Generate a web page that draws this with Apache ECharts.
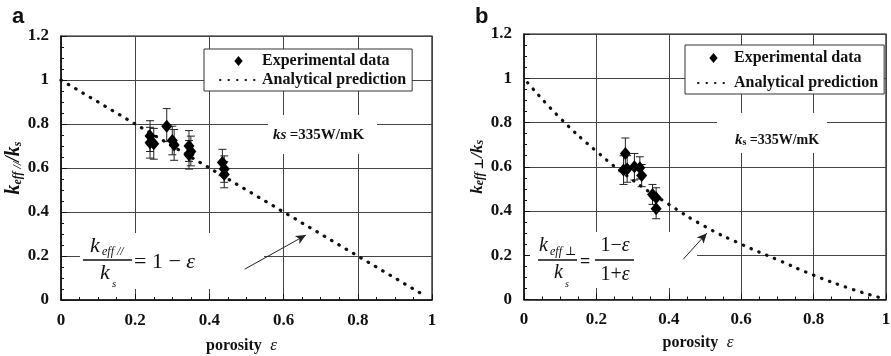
<!DOCTYPE html>
<html>
<head>
<meta charset="utf-8">
<script src="https://cdn.jsdelivr.net/npm/echarts@6/dist/echarts.min.js"></script>
<style>
html,body{margin:0;padding:0;background:#fff;}
#chart{width:891px;height:356px;}
</style>
</head>
<body>
<div id="chart"></div>
<script>
// Panel a: conductivity parallel to the pores (porosity, k_eff/k_s, error-bar low, error-bar high)
const aPorosity = [0.24, 0.24, 0.25, 0.285, 0.30, 0.305, 0.345, 0.35, 0.345, 0.435, 0.44, 0.44];
const aRatio    = [0.745, 0.715, 0.71, 0.79, 0.725, 0.705, 0.70, 0.675, 0.66, 0.625, 0.595, 0.57];
const aLow      = [0.675, 0.645, 0.64, 0.72, 0.66, 0.635, 0.63, 0.61, 0.595, 0.565, 0.535, 0.51];
const aHigh     = [0.815, 0.785, 0.78, 0.87, 0.79, 0.775, 0.77, 0.745, 0.725, 0.685, 0.655, 0.63];
// analytical prediction k_eff/k_s = 1 - eps
const aLineX = [0, 0.2, 0.4, 0.6, 0.8, 0.98];
const aLineY = [1, 0.8, 0.6, 0.4, 0.2, 0.02];
const aArrow = [[0.495, 0.14], [0.66, 0.295]];

// Panel b: conductivity perpendicular to the pores
const bPorosity = [0.28, 0.275, 0.285, 0.305, 0.32, 0.325, 0.355, 0.365, 0.365];
const bRatio    = [0.66, 0.585, 0.59, 0.60, 0.595, 0.56, 0.475, 0.46, 0.41];
const bLow      = [0.59, 0.52, 0.53, 0.54, 0.545, 0.51, 0.43, 0.415, 0.365];
const bHigh     = [0.73, 0.65, 0.65, 0.66, 0.645, 0.61, 0.52, 0.505, 0.455];
// analytical prediction k_eff/k_s = (1 - eps)/(1 + eps)
const bLineX = [0.01, 0.1, 0.2, 0.3, 0.4, 0.5, 0.6, 0.7, 0.8, 0.9, 0.98];
const bLineY = [0.98, 0.82, 0.67, 0.54, 0.43, 0.33, 0.25, 0.18, 0.11, 0.05, 0.01];
const bArrow = [[0.44, 0.182], [0.505, 0.30]];

const SERIF = '"Liberation Serif", "DejaVu Serif", serif';
const INK = '#111';
const DIAMOND = 'path://M5 0L10 6L5 12L0 6Z';

const pairs = (xs, ys) => xs.map((x, i) => [x, ys[i]]);
const bars = (xs, lo, hi) => xs.map((x, i) => [x, lo[i], hi[i]]);

function errorBar(params, api) {
  const x = api.value(0);
  const lo = api.coord([x, api.value(1)]);
  const hi = api.coord([x, api.value(2)]);
  const c = 4;
  const st = { stroke: '#222', lineWidth: 1 };
  return {
    type: 'group',
    children: [
      { type: 'line', shape: { x1: lo[0], y1: lo[1], x2: hi[0], y2: hi[1] }, style: st },
      { type: 'line', shape: { x1: lo[0] - c, y1: lo[1], x2: lo[0] + c, y2: lo[1] }, style: st },
      { type: 'line', shape: { x1: hi[0] - c, y1: hi[1], x2: hi[0] + c, y2: hi[1] }, style: st }
    ]
  };
}

const labelStyle = { fontFamily: SERIF, fontWeight: 'bold', fontSize: 17, color: INK };

function xAxis(gridIndex, padRight, gap) {
  return {
    type: 'value', gridIndex, min: 0, max: 1, interval: 0.2,
    name: '{p|porosity}{e|  ε}', nameLocation: 'middle', nameGap: gap,
    nameTextStyle: {
      padding: [0, padRight, 0, 0],
      rich: {
        p: { fontFamily: SERIF, fontWeight: 'bold', fontSize: 16, color: INK },
        e: { fontFamily: SERIF, fontStyle: 'italic', fontSize: 17, color: INK }
      }
    },
    axisLine: { lineStyle: { color: INK, width: 1.5 } },
    axisTick: { inside: true, length: 6, lineStyle: { color: INK } },
    minorTick: { show: true, splitNumber: 4, length: 3, lineStyle: { color: INK } },
    splitLine: { show: true, lineStyle: { color: '#444', width: 1 } },
    axisLabel: Object.assign({ margin: 12 }, labelStyle)
  };
}

function yAxis(gridIndex, name, gap, kSize, subSize) {
  return {
    type: 'value', gridIndex, min: 0, max: 1.2, interval: 0.2,
    name, nameLocation: 'middle', nameGap: gap, nameRotate: 90,
    nameTextStyle: {
      rich: {
        k: { fontFamily: SERIF, fontStyle: 'italic', fontWeight: 'bold', fontSize: kSize, color: INK },
        s: { fontFamily: SERIF, fontStyle: 'italic', fontWeight: 'bold', fontSize: subSize, color: INK, verticalAlign: 'bottom', lineHeight: 10 }
      }
    },
    axisLine: { lineStyle: { color: INK, width: 1.5 } },
    axisTick: { inside: true, length: 6, lineStyle: { color: INK } },
    minorTick: { show: true, splitNumber: 4, length: 3, lineStyle: { color: INK } },
    splitLine: { show: true, lineStyle: { color: '#444', width: 1 } },
    axisLabel: Object.assign({ margin: 12 }, labelStyle)
  };
}

const dotted = { color: INK, width: 3.2, type: [0.5, 8], cap: 'round' };
const arrowMark = (pts) => ({
  silent: true, symbol: ['none', 'arrow'], symbolSize: [7, 10],
  lineStyle: { color: '#222', width: 1, type: 'solid' },
  label: { show: false },
  data: [[{ coord: pts[0] }, { coord: pts[1] }]]
});

function legend(left, top, iconW, pad, gap) {
  return {
    left, top, orient: 'vertical', selectedMode: false, symbolKeepAspect: true,
    data: [
      { name: 'Experimental data', icon: DIAMOND },
      { name: 'Analytical prediction', itemStyle: { opacity: 0 } }
    ],
    backgroundColor: '#fff', borderColor: '#333', borderWidth: 1,
    padding: pad, itemGap: gap, itemWidth: iconW, itemHeight: 10, itemTextGap: 6,
    textStyle: { fontFamily: SERIF, fontWeight: 'bold', fontSize: 16, color: INK }
  };
}

// plain text helper for the annotations drawn over the plots
const txt = (x, y, text, font, extra) => ({
  type: 'text', x, y, z: 20,
  style: Object.assign({ text, font, fill: INK, align: 'left', verticalAlign: 'middle' }, extra || {})
});
const bar = (x1, x2, y) => ({ type: 'line', z: 20, shape: { x1, y1: y, x2, y2: y }, style: { stroke: INK, lineWidth: 1.3 } });
const blank = (x, y, w, h) => ({ type: 'rect', z: 1, shape: { x, y, width: w, height: h }, style: { fill: '#fff' } });

const diamondStyle = { color: '#000', opacity: 1 };

const option = {
  backgroundColor: '#fff',
  animation: false,
  grid: [
    { left: 61, top: 36, width: 371, height: 264, outerBoundsMode: 'none', show: true,
      borderColor: INK, borderWidth: 1.2, backgroundColor: 'transparent' },
    { left: 524, top: 34, width: 362, height: 265.5, outerBoundsMode: 'none', show: true,
      borderColor: INK, borderWidth: 1.2, backgroundColor: 'transparent' }
  ],
  xAxis: [xAxis(0, 10, 37), xAxis(1, 14, 35)],
  yAxis: [
    yAxis(0, '{k|k}{s|eff //}{k|/k}{s|s}', 36, 20, 12),
    yAxis(1, '{k|k}{s|eff ⊥}{k|/k}{s|s}', 38, 17, 12)
  ],
  legend: [legend(204, 49, 37, [4, 6, 3, 15], 3), legend(685, 45, 31, [5, 6, 3, 12], 9)],
  series: [
    { type: 'custom', name: 'err a', xAxisIndex: 0, yAxisIndex: 0, renderItem: errorBar,
      encode: { x: 0, y: [1, 2] }, data: bars(aPorosity, aLow, aHigh), z: 3 },
    { type: 'scatter', name: 'Experimental data', xAxisIndex: 0, yAxisIndex: 0,
      symbol: 'diamond', symbolSize: [11, 13], itemStyle: diamondStyle, z: 4,
      data: pairs(aPorosity, aRatio), markLine: arrowMark(aArrow) },
    { type: 'line', name: 'Analytical prediction', xAxisIndex: 0, yAxisIndex: 0,
      symbol: 'none', lineStyle: dotted, itemStyle: { color: INK }, z: 3,
      data: pairs(aLineX, aLineY) },

    { type: 'custom', name: 'err b', xAxisIndex: 1, yAxisIndex: 1, renderItem: errorBar,
      encode: { x: 0, y: [1, 2] }, data: bars(bPorosity, bLow, bHigh), z: 3 },
    { type: 'scatter', name: 'Experimental data', xAxisIndex: 1, yAxisIndex: 1,
      symbol: 'diamond', symbolSize: [11, 13], itemStyle: diamondStyle, z: 4,
      data: pairs(bPorosity, bRatio), markLine: arrowMark(bArrow) },
    { type: 'line', name: 'Analytical prediction', xAxisIndex: 1, yAxisIndex: 1,
      symbol: 'none', smooth: true, lineStyle: dotted, itemStyle: { color: INK }, z: 3,
      data: pairs(bLineX, bLineY) }
  ],
  graphic: { elements: [
    // panel letters
    txt(12, 17, 'a', 'bold 22px "Liberation Sans", Arial, sans-serif'),
    txt(475, 17, 'b', 'bold 22px "Liberation Sans", Arial, sans-serif'),

    // gaps in the grid behind the annotations
    blank(268, 115, 109, 39),
    blank(80, 233, 184, 56),
    blank(717, 113, 110, 40),
    blank(530, 232, 167, 56),

    // solid conductivity notes
    { type: 'text', x: 273, y: 135, z: 20, style: {
      text: '{i|ks} {r|=335W/mK}', verticalAlign: 'middle',
      rich: { i: { font: 'italic bold 15px ' + SERIF, fill: INK }, r: { font: 'bold 15px ' + SERIF, fill: INK } } } },
    { type: 'text', x: 735, y: 140, z: 20, style: {
      text: '{i|k}{s|s} {r|=335W/mK}', verticalAlign: 'middle',
      rich: { i: { font: 'italic bold 15px ' + SERIF, fill: INK },
              s: { font: 'bold 10px ' + SERIF, fill: INK, verticalAlign: 'bottom', lineHeight: 9 },
              r: { font: 'bold 14px ' + SERIF, fill: INK } } } },

    // formula, panel a
    txt(90, 246, 'k', 'italic 22px ' + SERIF),
    txt(102, 252, 'eff //', 'italic 12px ' + SERIF),
    bar(83, 132, 260),
    txt(100, 273, 'k', 'italic 22px ' + SERIF),
    txt(112, 284, 's', 'italic 11px ' + SERIF),
    { type: 'text', x: 134, y: 262, z: 20, style: {
      text: '{r|= 1 − }{e|ε}', verticalAlign: 'middle',
      rich: { r: { font: '22px ' + SERIF, fill: INK }, e: { font: 'italic 22px ' + SERIF, fill: INK } } } },

    // formula, panel b
    txt(539, 246, 'k', 'italic 20px ' + SERIF),
    txt(550, 252, 'eff ⊥', 'italic 12px ' + SERIF),
    bar(538, 577, 260),
    txt(554, 273, 'k', 'italic 20px ' + SERIF),
    txt(565, 284, 's', 'italic 10px ' + SERIF),
    txt(580, 262, '=', 'bold 18px ' + SERIF),
    { type: 'text', x: 615, y: 246, z: 20, style: {
      text: '{r|1−}{e|ε}', align: 'center', verticalAlign: 'middle',
      rich: { r: { font: '20px ' + SERIF, fill: INK }, e: { font: 'italic 20px ' + SERIF, fill: INK } } } },
    bar(595, 634, 260),
    { type: 'text', x: 615, y: 275, z: 20, style: {
      text: '{r|1+}{e|ε}', align: 'center', verticalAlign: 'middle',
      rich: { r: { font: '20px ' + SERIF, fill: INK }, e: { font: 'italic 20px ' + SERIF, fill: INK } } } }
  ] }
};

const chart = echarts.init(document.getElementById('chart'), null, { renderer: 'canvas' });
chart.setOption(option);
</script>
</body>
</html>
